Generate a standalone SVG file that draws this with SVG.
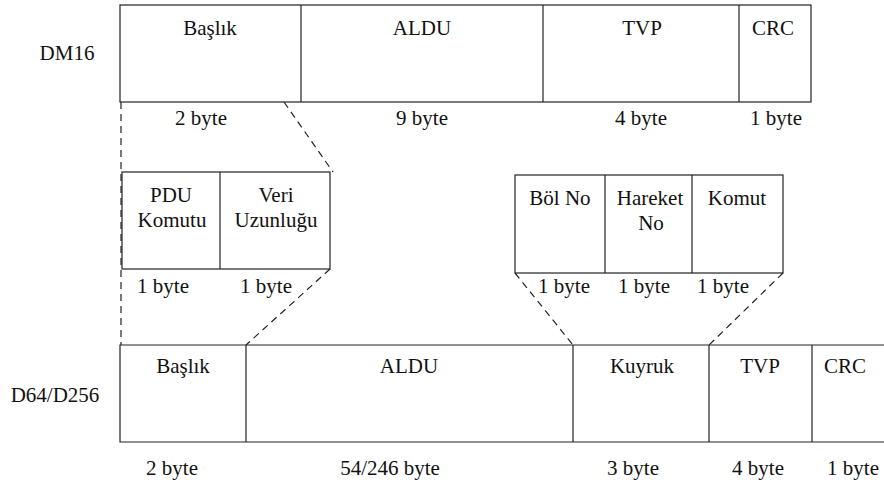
<svg xmlns="http://www.w3.org/2000/svg" width="884" height="484" viewBox="0 0 884 484">
<style>
text{font-family:"Liberation Serif","Times New Roman",serif;font-size:21px;fill:#111;text-anchor:middle}
.box{fill:none;stroke:#222;stroke-width:1.2}
.dash{fill:none;stroke:#222;stroke-width:1.2;stroke-dasharray:7 5}
</style>
<rect width="884" height="484" fill="#fff"/>
<text x="67" y="60">DM16</text>
<text x="55" y="402">D64/D256</text>
<g id="dm16">
<rect class="box" x="120" y="5" width="691" height="97"/>
<line class="box" x1="301" y1="5" x2="301" y2="102"/>
<line class="box" x1="543" y1="5" x2="543" y2="102"/>
<line class="box" x1="739" y1="5" x2="739" y2="102"/>
<text x="210" y="35">Başlık</text>
<text x="422" y="35">ALDU</text>
<text x="642" y="35">TVP</text>
<text x="773" y="35">CRC</text>
<text x="201" y="125">2 byte</text>
<text x="422" y="125">9 byte</text>
<text x="641" y="125">4 byte</text>
<text x="776" y="125">1 byte</text>
</g>
<g id="header">
<rect class="box" x="122" y="172" width="208" height="97"/>
<line class="box" x1="220" y1="172" x2="220" y2="269"/>
<text x="171" y="202">PDU</text>
<text x="172" y="227">Komutu</text>
<text x="276" y="202">Veri</text>
<text x="276" y="227">Uzunluğu</text>
<text x="163" y="293">1 byte</text>
<text x="266" y="293">1 byte</text>
</g>
<g id="tail">
<rect class="box" x="515" y="175" width="268" height="98"/>
<line class="box" x1="605" y1="175" x2="605" y2="273"/>
<line class="box" x1="692" y1="175" x2="692" y2="273"/>
<text x="560" y="205">Böl No</text>
<text x="650" y="205">Hareket</text>
<text x="651" y="230">No</text>
<text x="737" y="205">Komut</text>
<text x="564" y="293">1 byte</text>
<text x="644" y="293">1 byte</text>
<text x="723" y="293">1 byte</text>
</g>
<g id="d64">
<polyline class="box" points="884,345 120,345 120,442 884,442"/>
<line class="box" x1="246" y1="345" x2="246" y2="442"/>
<line class="box" x1="573" y1="345" x2="573" y2="442"/>
<line class="box" x1="709" y1="345" x2="709" y2="442"/>
<line class="box" x1="812" y1="345" x2="812" y2="442"/>
<text x="183" y="373">Başlık</text>
<text x="409" y="373">ALDU</text>
<text x="642" y="373">Kuyruk</text>
<text x="760" y="373">TVP</text>
<text x="845" y="373">CRC</text>
<text x="172" y="475">2 byte</text>
<text x="390" y="475">54/246 byte</text>
<text x="633" y="475">3 byte</text>
<text x="758" y="475">4 byte</text>
<text x="853" y="475">1 byte</text>
</g>
<g id="connectors">
<line class="dash" x1="121" y1="102" x2="121" y2="345"/>
<line class="dash" x1="284" y1="102" x2="333" y2="172"/>
<line class="dash" x1="330" y1="269" x2="246" y2="345"/>
<line class="dash" x1="515" y1="273" x2="573" y2="345"/>
<line class="dash" x1="783" y1="273" x2="709" y2="345"/>
</g>
</svg>
